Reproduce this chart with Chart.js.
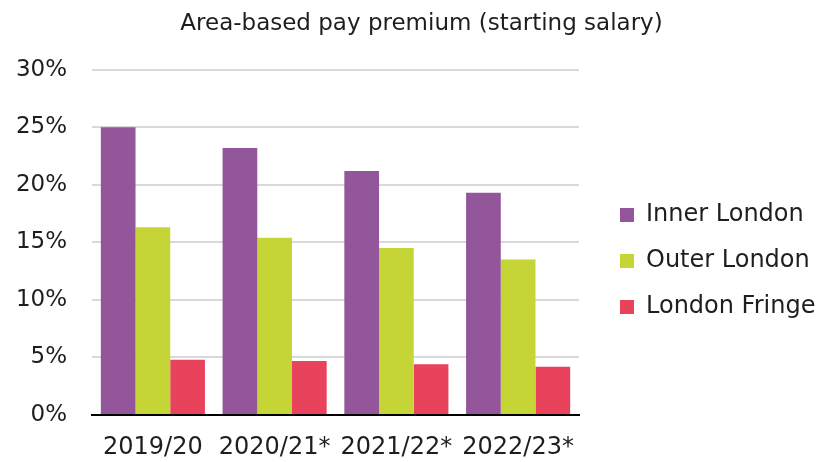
<!DOCTYPE html>
<html>
<head>
<meta charset="utf-8">
<script src="https://cdn.jsdelivr.net/npm/chart.js@4"></script>
<style>
  html, body { margin: 0; padding: 0; background: #fff; }
  #wrap { position: relative; width: 829px; height: 462px; }
</style>
</head>
<body>
<div id="wrap"><canvas id="payChart"></canvas></div>
<script>
'use strict';

var YEARS = ['2019/20', '2020/21*', '2021/22*', '2022/23*'];
var INNER = [25.0, 23.2, 21.2, 19.3];
var OUTER = [16.3, 15.4, 14.5, 13.5];
var FRINGE = [4.8, 4.7, 4.4, 4.2];
var SERIES_NAMES = ['Inner London', 'Outer London', 'London Fringe'];
var COLORS = ['#93569B', '#C5D535', '#E8425C'];

var FONT = 'DejaVu Sans';
var TEXT = '#1f1d1e';

// fixed legend column on the right, items nudged right/down like the original
var legendPlace = {
  id: 'legendPlace',
  beforeInit: function (chart) {
    var fit = chart.legend.fit;
    chart.legend.fit = function () {
      fit.bind(chart.legend)();
      this.width = 250;
    };
  },
  afterLayout: function (chart) {
    var lg = chart.legend;
    lg.left += 19; lg.right += 19;
    lg.top += 29; lg.bottom += 29;
  }
};

// the wide year labels shouldn't push the plot area around
function noScalePadding(scale) {
  scale.paddingLeft = 0;
  scale.paddingRight = 0;
  scale.paddingTop = 0;
  scale.paddingBottom = 0;
}

var ctx = document.getElementById('payChart');
new Chart(ctx, {
  type: 'bar',
  data: {
    labels: YEARS,
    datasets: [INNER, OUTER, FRINGE].map(function (vals, i) {
      return {
        label: SERIES_NAMES[i],
        data: vals,
        backgroundColor: COLORS[i],
        borderWidth: 0,
        categoryPercentage: 0.855,
        barPercentage: 1.0
      };
    })
  },
  options: {
    responsive: true,
    maintainAspectRatio: false,
    animation: false,
    layout: { padding: { left: 14, right: 0, top: 4, bottom: 2 } },
    plugins: {
      title: {
        display: true,
        text: 'Area-based pay premium (starting salary)',
        color: TEXT,
        font: { family: FONT, size: 23, weight: 'normal' },
        padding: { top: 6, bottom: 32 }
      },
      legend: {
        position: 'right',
        align: 'center',
        labels: {
          boxWidth: 14,
          boxHeight: 14,
          padding: 22,
          color: TEXT,
          font: { family: FONT, size: 24 }
        }
      },
      tooltip: { enabled: false }
    },
    scales: {
      x: {
        afterFit: function (s) { noScalePadding(s); s.height = 45; },
        grid: { display: false, drawTicks: false },
        border: { display: true, color: '#000', width: 2 },
        ticks: {
          color: TEXT, padding: 18,
          autoSkip: false, maxRotation: 0, minRotation: 0,
          font: { family: FONT, size: 24 }
        }
      },
      y: {
        afterFit: function (s) { noScalePadding(s); s.width = 78; },
        min: 0,
        max: 30,
        grid: { color: '#d9d9d9', lineWidth: 2, drawTicks: false },
        border: { display: false },
        ticks: {
          stepSize: 5,
          padding: 25,
          color: TEXT,
          font: { family: FONT, size: 23 },
          callback: function (v) { return v + '%'; }
        }
      }
    }
  },
  plugins: [legendPlace]
});
</script>
</body>
</html>
